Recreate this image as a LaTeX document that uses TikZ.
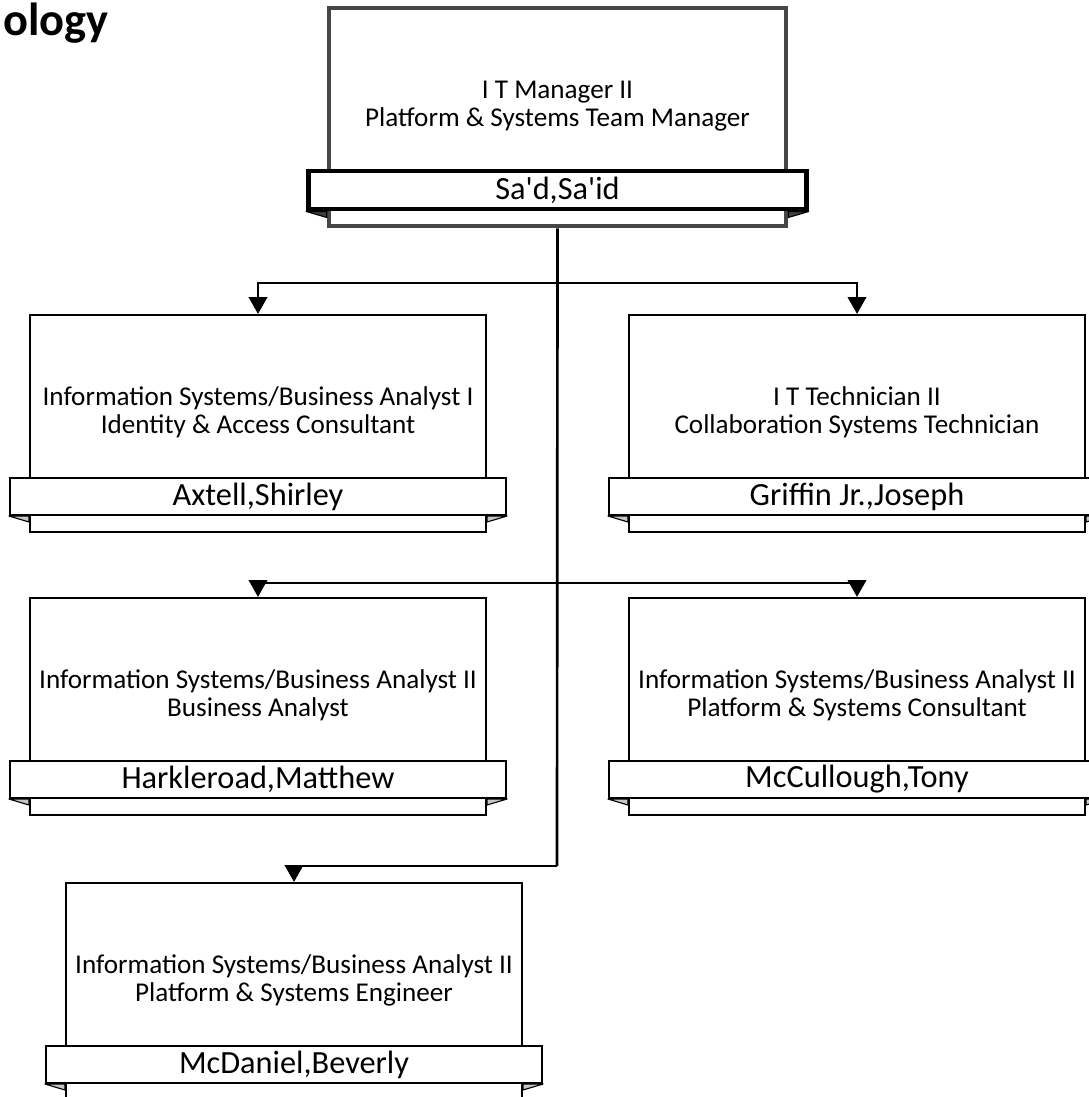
\documentclass[tikz,border=0pt]{standalone}
\usepackage{fontspec}
\setmainfont{Carlito}
\usetikzlibrary{positioning,arrows.meta}

\tikzset{
  postbox/.style={draw,line width=1.4pt,fill=white,minimum width=11.4cm,minimum height=5.425cm,inner sep=0pt},
  mgrbox/.style={postbox,draw=black!72,line width=3.2pt,minimum width=11.425cm,minimum height=5.45cm},
  namebar/.style={draw,line width=1.4pt,fill=white,minimum width=12.4cm,minimum height=0.925cm,inner sep=0pt,font=\fontsize{23}{26}\selectfont},
  mgrbar/.style={namebar,line width=3.2pt,minimum width=12.45cm,minimum height=0.95cm},
  ttl/.style={align=center,font=\fontsize{19.3}{19.8}\selectfont},
  fold/.style={fill=black!22,draw,line width=0.8pt,line join=round},
  conn/.style={line width=1.9pt},
  tip/.style={conn,-{Triangle[length=12pt,width=13pt]}}
}

\begin{document}
\begin{tikzpicture}[x=0.025cm,y=-0.025cm]
\clip (0,0) rectangle (1089,1097);
\node[font=\bfseries\fontsize{33}{36}\selectfont,anchor=base west,inner sep=0pt] (heading) at (3,36) {ology};
% Manager
\node[mgrbox] (mgr) at (557.5,117) {};
\node[ttl] (mgr-t) at ([yshift=-2.5cm]mgr.north) {I T Manager II\\Platform \& Systems Team Manager};
\node[mgrbar,above=0.42cm of mgr.south] (mgr-nm) {Sa\textquotesingle d,Sa\textquotesingle id};
\filldraw[fold,fill=black!75] (mgr-nm.south west) -- (mgr.west |- mgr-nm.south) -- ++(0,6) -- cycle;
\filldraw[fold,fill=black!75] (mgr-nm.south east) -- (mgr.east |- mgr-nm.south) -- ++(0,6) -- cycle;
% Staff
\foreach \nm/\cx/\cy/\ttl/\who in {
  axtell/258/315/{Information Systems/Business Analyst I\\Identity \& Access Consultant}/{Axtell,Shirley},
  griffin/857/315/{I T Technician II\\Collaboration Systems Technician}/{Griffin Jr.,Joseph},
  harkle/258/598/{Information Systems/Business Analyst II\\Business Analyst}/{Harkleroad,Matthew},
  mccull/857/598/{Information Systems/Business Analyst II\\Platform \& Systems Consultant}/{McCullough,Tony},
  mcdan/294/883/{Information Systems/Business Analyst II\\Platform \& Systems Engineer}/{McDaniel,Beverly}} {
  \node[postbox] (\nm) at (\cx,\cy+108.5) {};
  \node[ttl] (\nm-t) at ([yshift=-2.45cm]\nm.north) {\ttl};
  \node[namebar,above=0.425cm of \nm.south] (\nm-nm) {\who};
  \filldraw[fold] (\nm-nm.south west) -- (\nm.west |- \nm-nm.south) -- ++(0,6) -- cycle;
  \filldraw[fold] (\nm-nm.south east) -- (\nm.east |- \nm-nm.south) -- ++(0,6) -- cycle;
}
% Reporting lines
\coordinate (j1) at (557,283);
\coordinate (j2) at (557,583);
\coordinate (j3) at (557,866);
\draw[conn] (mgr.south) -- (j3);
\draw[tip] (j1) -| (axtell.north);
\draw[tip] (j1) -| (griffin.north);
\draw[tip] (j2) -| (harkle.north);
\draw[tip] (j2) -| (mccull.north);
\draw[tip] (j3) -| (mcdan.north);
\end{tikzpicture}
\end{document}
